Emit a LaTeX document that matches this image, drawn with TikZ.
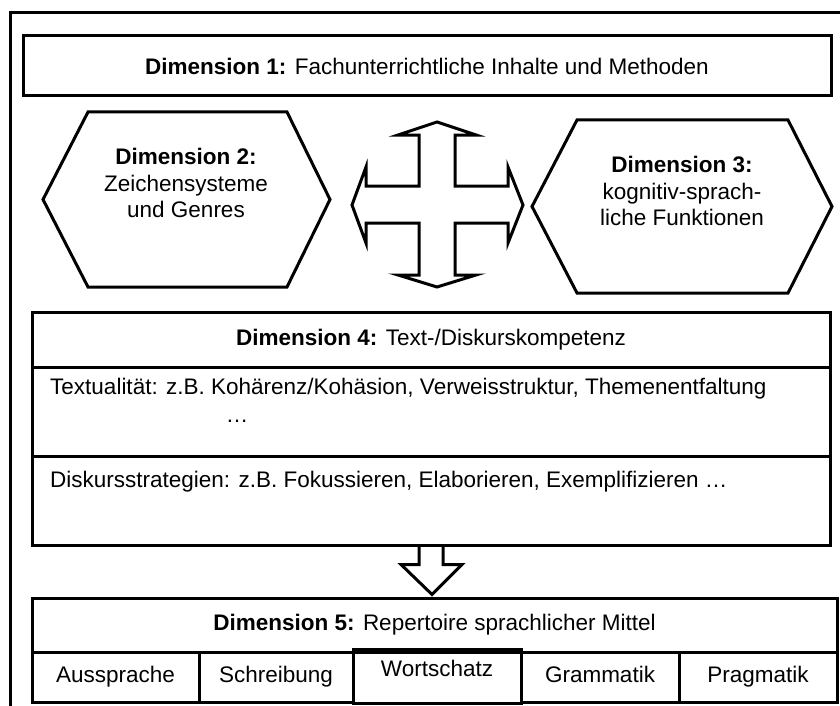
\documentclass[tikz,border=0pt]{standalone}
\usepackage{fontspec}
\setmainfont{Liberation Sans}
\usetikzlibrary{calc}

\tikzset{
  thickline/.style={line width=3pt, line join=miter},
  box/.style={draw, thickline, inner sep=0pt, font=\fontsize{22.5}{26.5}\selectfont},
  cell/.style={box, minimum height=50pt, text height=16pt, text depth=4.5pt},
  plain/.style={inner sep=0pt, font=\fontsize{22.5}{26.5}\selectfont},
}

\begin{document}
\begin{tikzpicture}[x=1pt, y=-1pt]
  \useasboundingbox (0,0) rectangle (840,706);

  % outer frame, open to the right and at the bottom
  \draw[thickline] (842,13) -- (10,13) -- (10,708);

  % dimension 1
  \node[box, minimum width=808pt, minimum height=60pt] (dim1) at (427,66) {\textbf{Dimension 1:} Fachunterrichtliche Inhalte und Methoden};

  % dimensions 2 and 3
  \draw[thickline] (43,199.5) -- (88,112) -- (287,112) -- (330,199.5) -- (287,287) -- (88,287) -- cycle;
  \node[plain, align=center] (dim2) at (186,183) {\textbf{Dimension 2:}\\Zeichensysteme\\und Genres};

  \draw[thickline] (532,206.5) -- (577,120) -- (788,120) -- (832,206.5) -- (788,293) -- (577,293) -- cycle;
  \node[plain, align=center] (dim3) at (682,191) {\textbf{Dimension 3:}\\kognitiv-sprach-\\liche Funktionen};

  % cross arrow between the dimensions
  \coordinate (cross) at (437,205);
  \begin{scope}[shift={(cross)}]
    \draw[thickline] (0,-83) -- (39,-70) -- (18,-70) -- (18,-19) -- (71,-19) -- (71,-38) -- (86,0) -- (71,38) -- (71,18) -- (18,18) -- (18,70) -- (39,70) -- (0,82) -- (-39,70) -- (-18,70) -- (-18,18) -- (-71,18) -- (-71,38) -- (-85,0) -- (-71,-38) -- (-71,-19) -- (-18,-19) -- (-18,-70) -- (-39,-70) -- cycle;
  \end{scope}

  % dimension 4
  \node[box, minimum width=798pt, minimum height=55pt] (dim4) at (431,339.5) {\textbf{Dimension 4:} Text-/Diskurskompetenz};
  \node[box, minimum width=798pt, minimum height=89pt] (textual) at (431,411.5) {};
  \node[box, minimum width=798pt, minimum height=89pt] (strategies) at (431,500.5) {};
  \node[plain, anchor=west] (textualtext) at (50,389) {Textualität: z.B. Kohärenz/Kohäsion, Verweisstruktur, Themenentfaltung};
  \node[plain] (textualdots) at (237,421) {…};
  \node[plain, anchor=west] (strategiestext) at (50,482) {Diskursstrategien: z.B. Fokussieren, Elaborieren, Exemplifizieren …};

  % arrow down to dimension 5
  \begin{scope}[shift={(strategies.south)}]
    \draw[thickline] (-12,0) -- (-12,18) -- (-30,18) -- (1,48) -- (31,18) -- (12,18) -- (12,0);
  \end{scope}

  % dimension 5
  \node[box, minimum width=805pt, minimum height=54pt] (dim5) at (434.5,625) {\textbf{Dimension 5:} Repertoire sprachlicher Mittel};
  \node[cell, minimum width=167pt] (aussprache) at (115.5,677) {Aussprache};
  \node[cell, minimum width=154pt] (schreibung) at (276,677) {Schreibung};
  \node[cell, minimum width=158pt] (grammatik) at (600,677) {Grammatik};
  \node[cell, minimum width=158pt] (pragmatik) at (758,677) {Pragmatik};
  \node[box, minimum width=168pt, minimum height=54pt, anchor=north] (wortschatz) at (437,648) {};
  \node[plain] (wortschatztext) at (437,668) {Wortschatz};
\end{tikzpicture}
\end{document}
